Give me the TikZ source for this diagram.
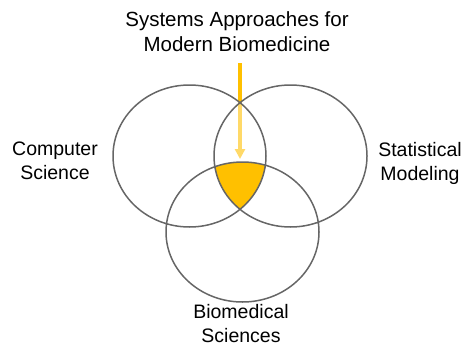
\documentclass[tikz,border=0pt]{standalone}
\usepackage{fontspec}
\setmainfont{Liberation Sans}
\usetikzlibrary{positioning, arrows.meta}
\definecolor{gold}{HTML}{FFC000}
\definecolor{ring}{HTML}{666666}
\tikzset{
    field/.style={font=\fontsize{19.5}{24}\selectfont, align=center, inner sep=0pt},
    hint/.style={gold, line width=3.3pt, -{Triangle[width=10pt, length=10pt]}},
}
\newcommand{\leftring}{(189.5,156) ellipse [x radius=76.5, y radius=71]}
\newcommand{\rightring}{(290.5,156) ellipse [x radius=76.5, y radius=71]}
\newcommand{\bottomring}{(242.5,232) ellipse [x radius=76.5, y radius=70]}

\begin{document}
\begin{tikzpicture}[x=1pt, y=-1pt]
    \useasboundingbox (0,0) rectangle (462,345);
    \node[field, anchor=base, font=\fontsize{20.5}{25}\selectfont] (title) at (237,52)
        {Systems Approaches for\\Modern Biomedicine};
    \node[field, anchor=base] (cs) at (55,179) {Computer\\Science};
    \node[field, anchor=base] (sm) at (420,180) {Statistical\\Modeling};
    \node[field, anchor=base] (bio) at (241,342) {Biomedical\\Sciences};
    \coordinate (core) at (240,159);
    % arrow sits under the rings
    \draw[hint, shorten <=11pt] (title.south -| core) -- (core);
    \fill[white, fill opacity=0.23] \leftring;
    \fill[white, fill opacity=0.23] \rightring;
    \fill[white, fill opacity=0.23] \bottomring;
    \begin{scope}
        \clip \leftring;
        \clip \rightring;
        \fill[gold] \bottomring;
    \end{scope}
    \draw[ring, line width=1.5pt] \leftring \rightring \bottomring;
\end{tikzpicture}
\end{document}
